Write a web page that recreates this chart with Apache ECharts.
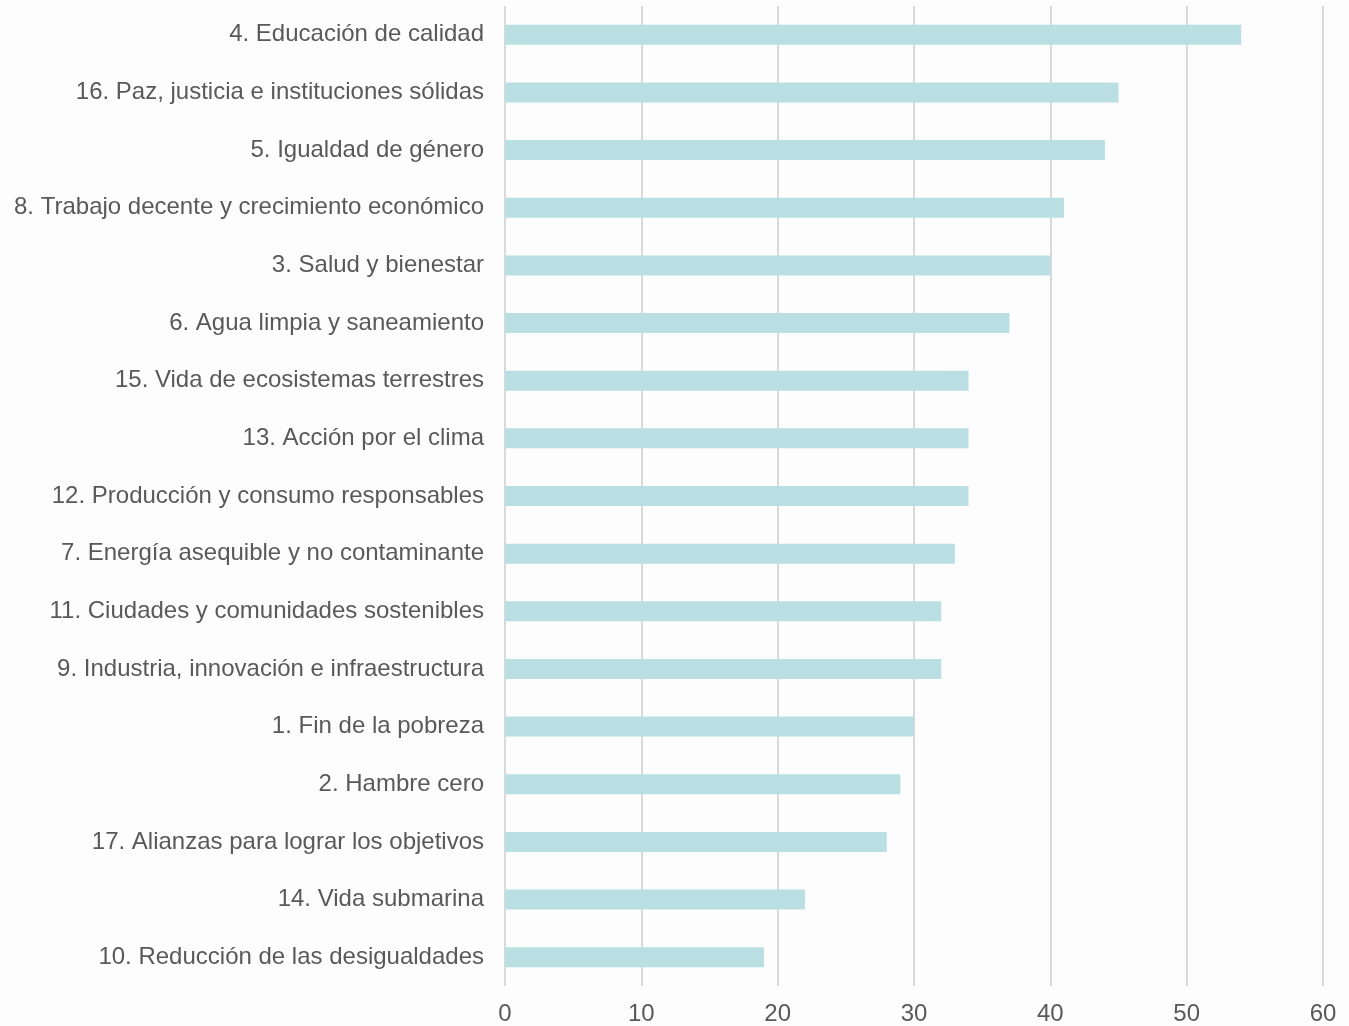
<!DOCTYPE html>
<html>
<head>
<meta charset="utf-8">
<script src="https://cdn.jsdelivr.net/npm/echarts@6/dist/echarts.min.js"></script>
<style>
html,body{margin:0;padding:0;background:#fdfdfd;}
#chart{width:1349px;height:1026px;}
</style>
</head>
<body>
<div id="chart"></div>
<script>
const categories = [
  "4. Educación de calidad",
  "16. Paz, justicia e instituciones sólidas",
  "5. Igualdad de género",
  "8. Trabajo decente y crecimiento económico",
  "3. Salud y bienestar",
  "6. Agua limpia y saneamiento",
  "15. Vida de ecosistemas terrestres",
  "13. Acción por el clima",
  "12. Producción y consumo responsables",
  "7. Energía asequible y no contaminante",
  "11. Ciudades y comunidades sostenibles",
  "9. Industria, innovación e infraestructura",
  "1. Fin de la pobreza",
  "2. Hambre cero",
  "17. Alianzas para lograr los objetivos",
  "14. Vida submarina",
  "10. Reducción de las desigualdades"
];
const values = [54, 45, 44, 41, 40, 37, 34, 34, 34, 33, 32, 32, 30, 29, 28, 22, 19];

const chart = echarts.init(document.getElementById('chart'));
chart.setOption({
  backgroundColor: '#fdfdfd',
  animation: false,
  grid: {left: 505, right: 26, top: 6, bottom: 39, containLabel: false},
  xAxis: {
    type: 'value', min: 0, max: 60, interval: 10,
    axisLine: {show: false}, axisTick: {show: false},
    splitLine: {show: true, lineStyle: {color: '#d9d9d9', width: 2}},
    axisLabel: {color: '#595959', fontSize: 24, fontFamily: 'Liberation Sans, Arial, sans-serif', margin: 16}
  },
  yAxis: {
    type: 'category', data: categories, inverse: true,
    axisLine: {show: false}, axisTick: {show: false},
    axisLabel: {color: '#595959', fontSize: 24, fontFamily: 'Liberation Sans, Arial, sans-serif', margin: 21}
  },
  series: [{
    type: 'bar', data: values, barWidth: 20,
    itemStyle: {color: '#b9dfe3'}
  }]
});
</script>
</body>
</html>
